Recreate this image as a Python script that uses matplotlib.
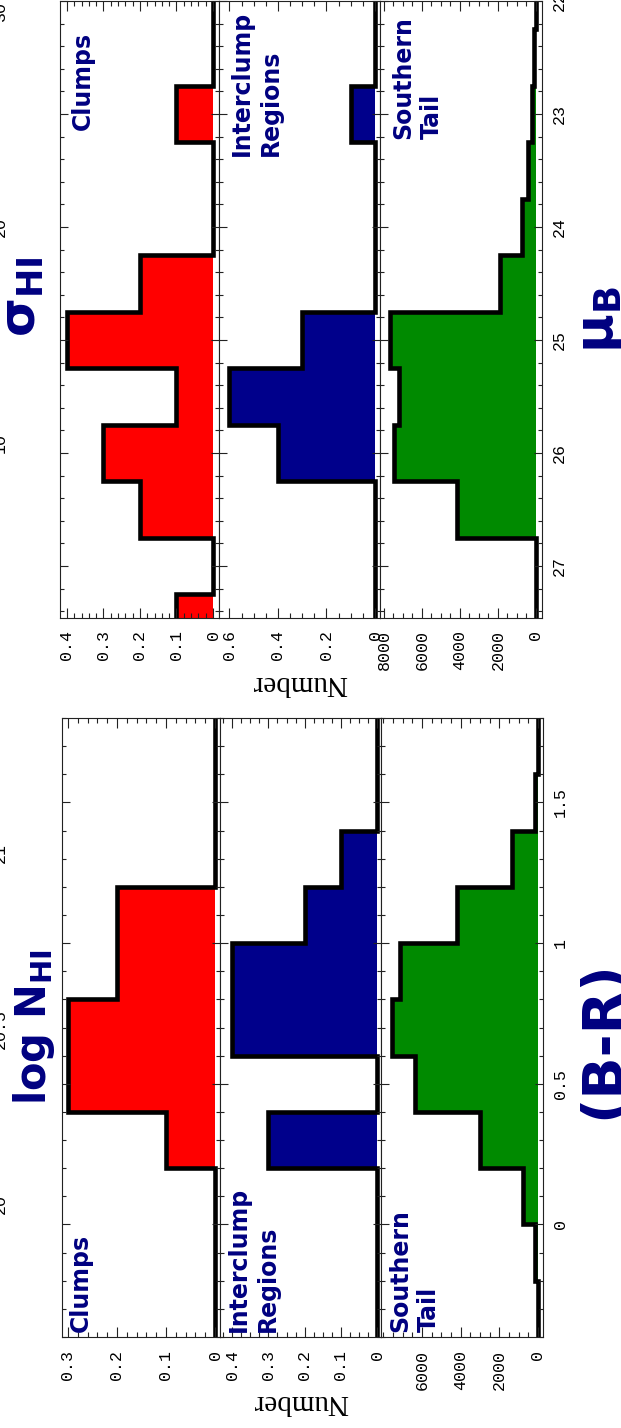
import matplotlib
matplotlib.use("Agg")
import matplotlib.pyplot as plt
from matplotlib.ticker import MultipleLocator

# ---------------- data ----------------
br_edges = [-0.4, -0.2, 0.0, 0.2, 0.4, 0.6, 0.8, 1.0, 1.2, 1.4, 1.6, 1.8]
br_clumps = [0, 0, 0, 0.1, 0.3, 0.3, 0.2, 0.2, 0, 0, 0]
br_interclump = [0, 0, 0, 0.3, 0, 0.4, 0.4, 0.2, 0.1, 0, 0]
br_tail = [20, 150, 750, 3000, 6350, 7550, 7150, 4200, 1350, 150, 0]

mu_edges = [21.75, 22.25, 22.75, 23.25, 23.75, 24.25, 24.75, 25.25, 25.75, 26.25, 26.75, 27.25, 27.75]
mu_clumps = [0, 0, 0.1, 0, 0, 0.2, 0.4, 0.1, 0.3, 0.2, 0, 0.1]
mu_interclump = [0, 0, 0.1, 0, 0, 0, 0.3, 0.6, 0.4, 0, 0, 0]
mu_tail = [20, 90, 230, 400, 750, 1900, 7700, 7200, 7450, 4150, 0, 0]

br_ticks = [0, 0.5, 1, 1.5]
br_ticklabels = ["0", "0.5", "1", "1.5"]
mu_ticks = [22, 23, 24, 25, 26, 27]
mu_ticklabels = ["22", "23", "24", "25", "26", "27"]
lognhi_ticks = [20, 20.5, 21]
lognhi_ticklabels = ["20", "20.5", "21"]
sigma_ticks = [10, 20, 30]
sigma_ticklabels = ["10", "20", "30"]

num_ticks_br_clumps = [0, 0.1, 0.2, 0.3]
num_labels_br_clumps = ["0", "0.1", "0.2", "0.3"]
num_ticks_br_inter = [0, 0.1, 0.2, 0.3, 0.4]
num_labels_br_inter = ["0", "0.1", "0.2", "0.3", "0.4"]
num_ticks_br_tail = [0, 2000, 4000, 6000]
num_labels_br_tail = ["0", "2000", "4000", "6000"]
num_ticks_mu_clumps = [0, 0.1, 0.2, 0.3, 0.4]
num_labels_mu_clumps = ["0", "0.1", "0.2", "0.3", "0.4"]
num_ticks_mu_inter = [0, 0.2, 0.4, 0.6]
num_labels_mu_inter = ["0", "0.2", "0.4", "0.6"]
num_ticks_mu_tail = [0, 2000, 4000, 6000, 8000]
num_labels_mu_tail = ["0", "2000", "4000", "6000", "8000"]

panel_names = ["Clumps", "Interclump\nRegions", "Southern\nTail"]
colors = ["#ff0000", "#00008b", "#008a00"]

# ---------------- style ----------------
plt.rcParams["mathtext.fontset"] = "dejavusans"
NAVY = "#000080"
TICKFONT = dict(family="Liberation Mono", size=12)

W, H = 621, 1428
fig = plt.figure(figsize=(W / 100, H / 100), dpi=100)


def add_ax(l, t, r, b):
    return fig.add_axes([l / W, (H - b) / H, (r - l) / W, (b - t) / H])


def style(ax, xlim, ylim, xticks, xlabels, xminor, yminor):
    ax.set_xlim(*xlim)
    ax.set_ylim(*ylim)
    for s in ax.spines.values():
        s.set_linewidth(0.8)
        s.set_color("#222222")
    ax.set_xticks(xticks, xlabels, rotation=90, fontdict=TICKFONT)
    ax.xaxis.set_minor_locator(MultipleLocator(xminor))
    ax.yaxis.set_minor_locator(MultipleLocator(yminor))
    ax.tick_params(which="both", direction="in", top=True, bottom=True,
                   left=True, right=True, labelleft=False, labelright=False,
                   width=0.8, color="#222222")
    ax.tick_params(axis="x", which="major", length=7, pad=9)
    ax.tick_params(axis="x", which="minor", length=3.5)
    ax.tick_params(axis="y", which="major", length=5.5)
    ax.tick_params(axis="y", which="minor", length=3)


def hist(ax, vals, edges, color):
    ax.stairs(vals, edges, orientation="horizontal", baseline=0, fill=True,
              color=color, lw=0)
    ax.stairs(vals, edges, orientation="horizontal", baseline=None, fill=False,
              color="black", lw=3.3)


# ---------------- bottom half: (B-R) ----------------
br_ylim = (-0.4, 1.8)
ax1 = add_ax(62, 718, 220, 1337)
ax2 = add_ax(220, 718, 381, 1337)
ax3 = add_ax(381, 718, 543, 1337)
hist(ax1, br_clumps, br_edges, colors[0])
hist(ax2, br_interclump, br_edges, colors[1])
hist(ax3, br_tail, br_edges, colors[2])
style(ax1, (0.3122, -0.0102), br_ylim, num_ticks_br_clumps, num_labels_br_clumps, 0.02, 0.1)
style(ax2, (0.4337, -0.011), br_ylim, num_ticks_br_inter, num_labels_br_inter, 0.025, 0.1)
style(ax3, (8121, -259), br_ylim, num_ticks_br_tail, num_labels_br_tail, 500, 0.1)
for ax in (ax1, ax2, ax3):
    ax.set_yticks(br_ticks)
ax3.set_yticks(br_ticks, br_ticklabels, rotation=90, va="center", fontdict=TICKFONT)
ax3.tick_params(axis="y", labelright=True, pad=7)

sec1 = ax1.secondary_yaxis(-0.335, functions=(lambda x: 19.942 + 0.8016 * x,
                                               lambda v: (v - 19.942) / 0.8016))
sec1.set_yticks(lognhi_ticks, lognhi_ticklabels, rotation=90, va="center", fontdict=TICKFONT)
sec1.tick_params(length=0, pad=1)
sec1.spines["left"].set_visible(False)

# ---------------- top half: mu_B ----------------
mu_ylim = (27.46, 22.02)
bx1 = add_ax(60, 1, 219, 618)
bx2 = add_ax(219, 1, 380, 618)
bx3 = add_ax(380, 1, 542, 618)
hist(bx1, mu_clumps, mu_edges, colors[0])
hist(bx2, mu_interclump, mu_edges, colors[1])
hist(bx3, mu_tail, mu_edges, colors[2])
style(bx1, (0.419, -0.0164), mu_ylim, num_ticks_mu_clumps, num_labels_mu_clumps, 0.02, 0.2)
style(bx2, (0.643, -0.0206), mu_ylim, num_ticks_mu_inter, num_labels_mu_inter, 0.05, 0.2)
style(bx3, (8210, -316), mu_ylim, num_ticks_mu_tail, num_labels_mu_tail, 500, 0.2)
for ax in (bx1, bx2, bx3):
    ax.set_yticks(mu_ticks)
bx3.set_yticks(mu_ticks, mu_ticklabels, rotation=90, va="center", fontdict=TICKFONT)
bx3.tick_params(axis="y", labelright=True, pad=7)

sec2 = bx1.secondary_yaxis(-0.32, functions=(lambda m: 145.66 - 5.236 * m,
                                              lambda s: (145.66 - s) / 5.236))
sec2.set_yticks(sigma_ticks, sigma_ticklabels, rotation=90, va="center", fontdict=TICKFONT)
sec2.tick_params(length=0, pad=1)
sec2.spines["left"].set_visible(False)

# ---------------- labels ----------------
lab = dict(color=NAVY, fontsize=17, fontweight="bold", family="DejaVu Sans",
           rotation=90, rotation_mode="anchor", linespacing=1.25,
           multialignment="left")
for ax, name in zip((ax1, ax2, ax3), panel_names):
    ax.text(0.045, 0.008, name, transform=ax.transAxes, ha="left", va="top", **lab)
for ax, name, yy in zip((bx1, bx2, bx3), panel_names, (0.95, 0.985, 0.975)):
    ax.text(0.07, yy, name, transform=ax.transAxes, ha="right", va="top", **lab)

num_kw = dict(family="Liberation Serif", fontsize=21, rotation=180,
              ha="center", va="center")
ax2.text(0.5, -0.105, "Number", transform=ax2.transAxes, **num_kw)
bx2.text(0.5, -0.105, "Number", transform=bx2.transAxes, **num_kw)

title_kw = dict(color=NAVY, rotation=90, ha="center", va="center")
ax1.text(-0.18, 0.5, r"$\mathbf{log\ N_{HI}}$", transform=ax1.transAxes,
         fontsize=30, **title_kw)
ax3.text(1.37, 0.48, "(B-R)", transform=ax3.transAxes, fontsize=40,
         fontweight="bold", family="DejaVu Sans", **title_kw)
bx1.text(-0.24, 0.52, r"$\mathbf{\sigma_{HI}}$", transform=bx1.transAxes,
         fontsize=36, **title_kw)
bx3.text(1.36, 0.483, r"$\mathbf{\mu_{B}}$", transform=bx3.transAxes,
         fontsize=38, **title_kw)

fig.savefig("out.png", dpi=100)
